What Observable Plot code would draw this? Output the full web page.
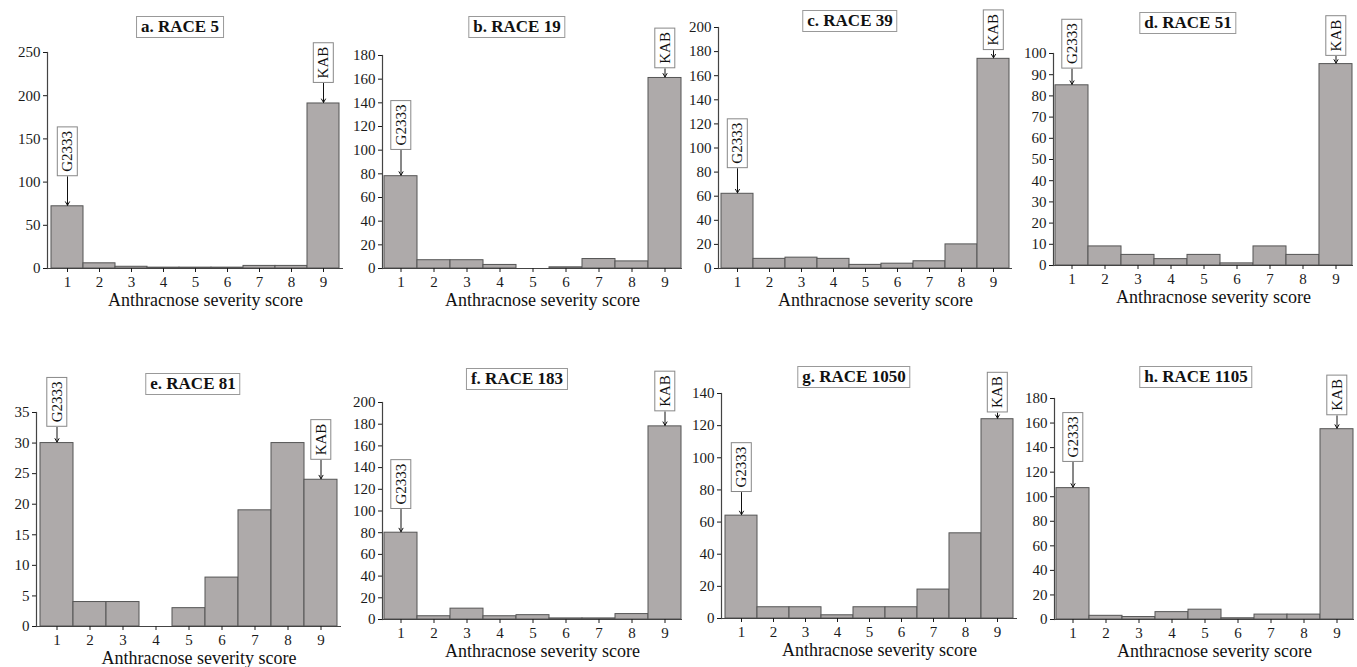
<!DOCTYPE html>
<html><head><meta charset="utf-8">
<script src="https://cdn.jsdelivr.net/npm/d3@7"></script>
<script src="https://cdn.jsdelivr.net/npm/@observablehq/plot@0.6"></script>
<style>
body{margin:0;background:#fff;}
#chart{position:relative;width:1357px;height:667px;overflow:hidden;background:#fff;font-family:"Liberation Serif",serif;}
#chart svg, #chart svg text{font-family:"Liberation Serif",serif !important;}
.title{position:absolute;transform:translate(-50%,-50%);border:1px solid #999;background:#fff;padding:0 4px;font-family:"Liberation Serif",serif;font-weight:bold;font-size:17px;line-height:20px;white-space:nowrap;color:#111;}
</style></head><body><div id="chart"></div>
<script>
// ---- data ----
const scores = [1, 2, 3, 4, 5, 6, 7, 8, 9];
const xLabel = "Anthracnose severity score";
const titles = ["a. RACE 5", "b. RACE 19", "c. RACE 39", "d. RACE 51", "e. RACE 81", "f. RACE 183", "g. RACE 1050", "h. RACE 1105"];
const race5    = [72, 6, 2, 1, 1, 1, 3, 3, 191];
const race19   = [78, 7, 7, 3, 0, 1, 8, 6, 161];
const race39   = [62, 8, 9, 8, 3, 4, 6, 20, 174];
const race51   = [85, 9, 5, 3, 5, 1, 9, 5, 95];
const race81   = [30, 4, 4, 0, 3, 8, 19, 30, 24];
const race183  = [80, 3, 10, 3, 4, 1, 1, 5, 178];
const race1050 = [64, 7, 7, 2, 7, 7, 18, 53, 124];
const race1105 = [107, 3, 2, 6, 8, 1, 4, 4, 155];
const seriesList = [race5, race19, race39, race51, race81, race183, race1050, race1105];
const yMaxes = [250, 180, 200, 100, 35, 200, 140, 180];
const yStepList = [50, 20, 20, 10, 5, 20, 20, 20];
const parentLabels = ["G2333", "KAB"];

// ---- layout (pixels / annotation anchors) ----
const layout = [
  {left: 0,    top: 0,   width: 345, height: 320, L: 47,   R: 343,  T: 52,  B: 268, tx: 180,  ty: 27,  gAt: 112,  kAt: 220},
  {left: 345,  top: 0,   width: 340, height: 320, L: 382,  R: 682,  T: 55,  B: 268, tx: 517,  ty: 27,  gAt: 104,  kAt: 173},
  {left: 685,  top: 0,   width: 330, height: 320, L: 718,  R: 1012, T: 27,  B: 268, tx: 850,  ty: 21,  gAt: 87,   kAt: 185},
  {left: 1015, top: 0,   width: 342, height: 320, L: 1053, R: 1353, T: 53,  B: 265, tx: 1188, ty: 23,  gAt: 95,   kAt: 101},
  {left: 0,    top: 330, width: 345, height: 337, L: 36,   R: 341,  T: 412, B: 626, tx: 193,  ty: 384, gAt: 33.4, kAt: 28},
  {left: 345,  top: 330, width: 340, height: 337, L: 382,  R: 682,  T: 402, B: 619, tx: 517,  ty: 379, gAt: 106,  kAt: 196},
  {left: 685,  top: 330, width: 335, height: 337, L: 721,  R: 1017, T: 393, B: 618, tx: 854,  ty: 377, gAt: 81.5, kAt: 131},
  {left: 1020, top: 330, width: 337, height: 337, L: 1054, R: 1354, T: 398, B: 619, tx: 1196, ty: 377, gAt: 132,  kAt: 170}
];

const chart = document.getElementById("chart");
const SVGNS = "http://www.w3.org/2000/svg";
const FONT = "Liberation Serif";

seriesList.forEach((values, i) => {
  const lay = layout[i];
  const yMax = yMaxes[i];
  const data = scores.map((s, j) => ({score: s, count: values[j]}));
  const annos = [
    {score: scores[0], count: values[0], label: parentLabels[0], at: lay.gAt},
    {score: scores[8], count: values[8], label: parentLabels[1], at: lay.kAt}
  ];
  const plot = Plot.plot({
    width: lay.width,
    height: lay.height,
    marginLeft: lay.L - lay.left,
    marginRight: lay.left + lay.width - lay.R,
    marginTop: lay.T - lay.top,
    marginBottom: lay.top + lay.height - lay.B,
    style: {fontFamily: FONT, fontSize: "15px", color: "#1a1a1a", background: "transparent", overflow: "visible"},
    x: {type: "band", domain: scores, padding: 0, label: null},
    y: {domain: [0, yMax], label: null},
    marks: [
      Plot.barY(data, {x: "score", y: "count", fill: "#aeaaaa", stroke: "#555", strokeWidth: 1}),
      Plot.ruleY([0], {stroke: "#444", strokeWidth: 1.2}),
      Plot.frame({anchor: "left", stroke: "#444", strokeWidth: 1.2}),
      Plot.axisX({tickSize: 4, tickPadding: 4, label: null, fontSize: 15, fontFamily: FONT}),
      Plot.axisY({ticks: d3.range(0, yMax + 1e-9, yStepList[i]), tickSize: 4, tickPadding: 3, label: null, fontSize: 15, fontFamily: FONT}),
      Plot.arrow(annos, {x1: "score", x2: "score", y1: "at", y2: "count", stroke: "#111", strokeWidth: 1, headLength: 6, insetStart: 5, insetEnd: 1}),
      Plot.text(annos, {x: "score", y: "at", text: "label", rotate: -90, textAnchor: "start", lineAnchor: "middle", fontSize: 15, fontFamily: FONT, fill: "#111"}),
      Plot.text([xLabel], {frameAnchor: "bottom", text: d => d, dy: 32, dx: 10, lineAnchor: "middle", fontSize: 18, fontFamily: FONT, fill: "#111"})
    ]
  });
  plot.style.position = "absolute";
  plot.style.left = lay.left + "px";
  plot.style.top = lay.top + "px";
  chart.appendChild(plot);

  // boxes around the parent labels
  plot.querySelectorAll("text").forEach(t => {
    if (!parentLabels.includes(t.textContent)) return;
    const b = t.getBBox();
    const r = document.createElementNS(SVGNS, "rect");
    r.setAttribute("x", b.x - 4);
    r.setAttribute("y", b.y - 2);
    r.setAttribute("width", b.width + 8);
    r.setAttribute("height", b.height + 4);
    r.setAttribute("fill", "#fff");
    r.setAttribute("stroke", "#888");
    r.setAttribute("stroke-width", 1);
    const tr = t.getAttribute("transform");
    if (tr) r.setAttribute("transform", tr);
    t.parentNode.insertBefore(r, t);
  });

  const title = document.createElement("div");
  title.className = "title";
  title.textContent = titles[i];
  title.style.left = lay.tx + "px";
  title.style.top = lay.ty + "px";
  chart.appendChild(title);
});
</script></body></html>
